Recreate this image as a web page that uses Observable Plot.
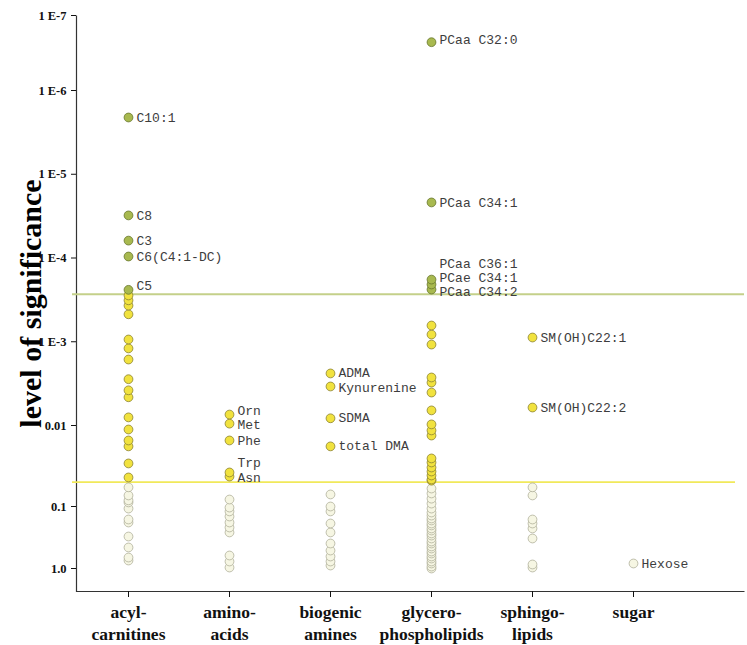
<!DOCTYPE html>
<html>
<head>
<meta charset="utf-8">
<script src="https://cdn.jsdelivr.net/npm/d3@7"></script>
<script src="https://cdn.jsdelivr.net/npm/@observablehq/plot@0.6"></script>
<style>
  html, body { margin: 0; padding: 0; background: #fff; }
  #chart svg { display: block; }
</style>
</head>
<body>
<div id="chart"></div>
<script>
// ---------- data ----------
const categories = ["acyl-carnitines", "amino-acids", "biogenic amines", "glycero-phospholipids", "sphingo-lipids", "sugar"];
const categoryLabels = ["acyl-\ncarnitines", "amino-\nacids", "biogenic\namines", "glycero-\nphospholipids", "sphingo-\nlipids", "sugar"];

const yTicks = [1e-7, 1e-6, 1e-5, 1e-4, 1e-3, 0.01, 0.1, 1];
const yTickLabels = ["1 E-7", "1 E-6", "1 E-5", "1 E-4", "1 E-3", "0.01", "0.1", "1.0"];

const thresholds = [2.7e-4, 0.05];
const thresholdLabels = ["2.7 E-4", "0.05"];

// acyl-carnitines
const acylNames = ["C10:1", "C8", "C3", "C6(C4:1-DC)", "C5"];
const acylNamedP = [2.1e-6, 3.1e-5, 6.2e-5, 9.6e-5, 2.4e-4];
const acylOtherP = [2.8e-4, 3.2e-4, 3.7e-4, 4.7e-4, 9.4e-4, 1.2e-3, 1.63e-3, 2.8e-3, 3.8e-3, 4.6e-3, 8.0e-3,
  0.0112, 0.0153, 0.0181, 0.0294, 0.0438,
  0.058, 0.073, 0.084, 0.089, 0.108, 0.162, 0.181, 0.305, 0.458, 0.665, 0.743];

// amino-acids
const aminoNames = ["Orn", "Met", "Phe", "Trp", "Asn"];
const aminoNamedP = [0.0074, 0.0095, 0.0153, 0.038, 0.0427];
const aminoOtherP = [0.082, 0.104, 0.120, 0.145, 0.181, 0.218, 0.262, 0.617, 0.771, 0.964];

// biogenic amines
const biogenicNames = ["ADMA", "Kynurenine", "SDMA", "total DMA"];
const biogenicNamedP = [0.00239, 0.00342, 0.0082, 0.0181];
const biogenicOtherP = [0.071, 0.100, 0.120, 0.188, 0.262, 0.395, 0.513, 0.640, 0.771, 0.895];

// glycero-phospholipids
const glyceroNames = ["PCaa C32:0", "PCaa C34:1", "PCaa C36:1", "PCae C34:1", "PCaa C34:2"];
const glyceroNamedP = [2.27e-7, 2.17e-5, 1.81e-4, 2.07e-4, 2.38e-4];
const glyceroOtherP = [6.4e-4, 8.2e-4, 1.08e-3, 2.67e-3, 3.07e-3, 4.04e-3, 6.6e-3, 9.7e-3, 0.0115, 0.0133,
  0.0255, 0.0286, 0.033, 0.037, 0.0414, 0.0464, 0.048,
  0.060, 0.069, 0.080, 0.092, 0.108, 0.125, 0.140, 0.156, 0.168, 0.188, 0.202, 0.226, 0.244, 0.272,
  0.294, 0.328, 0.367, 0.395, 0.441, 0.476, 0.532, 0.573, 0.640, 0.690, 0.771, 0.830, 0.930, 1.0];

// sphingo-lipids
const sphingoNames = ["SM(OH)C22:1", "SM(OH)C22:2"];
const sphingoNamedP = [8.9e-4, 6.1e-3];
const sphingoOtherP = [0.058, 0.073, 0.162, 0.188, 0.226, 0.328, 0.861, 0.964];

// sugar
const sugarNames = ["Hexose"];
const sugarNamedP = [0.83];
const sugarOtherP = [];

// ---------- build table ----------
const groups = [
  [acylNames, acylNamedP, acylOtherP],
  [aminoNames, aminoNamedP, aminoOtherP],
  [biogenicNames, biogenicNamedP, biogenicOtherP],
  [glyceroNames, glyceroNamedP, glyceroOtherP],
  [sphingoNames, sphingoNamedP, sphingoOtherP],
  [sugarNames, sugarNamedP, sugarOtherP]
];
const rows = [];
groups.forEach(([names, named, other], i) => {
  other.forEach(p => rows.push({category: categories[i], name: "", p}));
  names.forEach((n, j) => rows.push({category: categories[i], name: n, p: named[j]}));
});
rows.sort((a, b) => b.p - a.p); // draw least significant first
const labeled = rows.filter(d => d.name);

// ---------- styling ----------
const W = 747, H = 645, mL = 76, mR = 3, mT = 15, mB = 54;
const fw = W - mL - mR, fh = H - mT - mB;
const serif = "'Times New Roman', 'Liberation Serif', serif";
const mono = "'Courier New', 'Liberation Mono', monospace";
const fillOf = p => p < thresholds[0] ? "#a8b94f" : p < thresholds[1] ? "#f1e23e" : "#f6f6e3";
const strokeOf = p => p < thresholds[0] ? "#66752b" : p < thresholds[1] ? "#8a8132" : "#b0b09a";
const labelNudge = {
  "C5": -4, "Orn": -4, "Met": 1, "Trp": -10, "Asn": 1,
  "ADMA": -1, "Kynurenine": 1,
  "PCaa C36:1": -16, "PCae C34:1": -7, "PCaa C34:2": 2, "PCaa C32:0": -2, "total DMA": -1
};
const nudgeGroups = d3.groups(labeled, d => labelNudge[d.name] ?? 0);

const chart = Plot.plot({
  width: W, height: H,
  marginLeft: mL, marginRight: mR, marginTop: mT, marginBottom: mB,
  style: {background: "#fff", overflow: "visible"},
  x: {type: "point", domain: categories, range: [127, 634.5], padding: 0, axis: null},
  y: {type: "log", domain: [1e-7, 1e-6, 0.01, 0.1, 1], range: [15, 90, 425, 506, 568], axis: null},
  color: {type: "identity"},
  marks: [
    Plot.frame({stroke: "#333", strokeWidth: 1.2, strokeDasharray: `0 ${fw + fh} ${fw + fh}`}),
    Plot.ruleY([thresholds[0]], {stroke: "#c4d08a", strokeWidth: 2, insetLeft: -4}),
    Plot.ruleY([thresholds[1]], {stroke: "#f1e95a", strokeWidth: 1.6, insetLeft: -4, insetRight: 9}),
    Plot.axisY({
      ticks: yTicks, tickFormat: d => yTickLabels[yTicks.indexOf(d)],
      tickSize: 5, tickPadding: 5, label: null,
      fontFamily: serif, fontWeight: "bold", fontSize: 12.5, color: "#111"
    }),
    Plot.axisY({
      ticks: [thresholds[0]], tickFormat: () => thresholdLabels[0],
      tickSize: 0, tickPadding: 11, label: null,
      fontFamily: serif, fontWeight: "bold", fontSize: 12, color: "#8a983c"
    }),
    Plot.axisY({
      ticks: [thresholds[1]], tickFormat: () => thresholdLabels[1],
      tickSize: 0, tickPadding: 11, label: null,
      fontFamily: serif, fontWeight: "bold", fontSize: 12, color: "#a39a30"
    }),
    Plot.axisX({
      tickFormat: d => categoryLabels[categories.indexOf(d)],
      tickSize: 6, tickPadding: 5, label: null, lineHeight: 1.25,
      fontFamily: serif, fontWeight: "bold", fontSize: 17.5, color: "#111"
    }),
    Plot.text(["level of significance"], {
      text: d => d, frameAnchor: "left", textAnchor: "middle", dx: -45, rotate: -90,
      fontFamily: serif, fontWeight: "bold", fontSize: 30, fill: "#000"
    }),
    Plot.dot(rows, {
      x: "category", y: "p", r: 4.4,
      fill: d => fillOf(d.p), stroke: d => strokeOf(d.p), strokeWidth: 0.8
    }),
    ...nudgeGroups.map(([dy, g]) => Plot.text(g, {
      x: "category", y: "p", text: "name", dx: 8, dy,
      textAnchor: "start", fontFamily: mono, fontSize: 13, fill: "#3d3d3d"
    }))
  ]
});
document.getElementById("chart").append(chart);
</script>
</body>
</html>
